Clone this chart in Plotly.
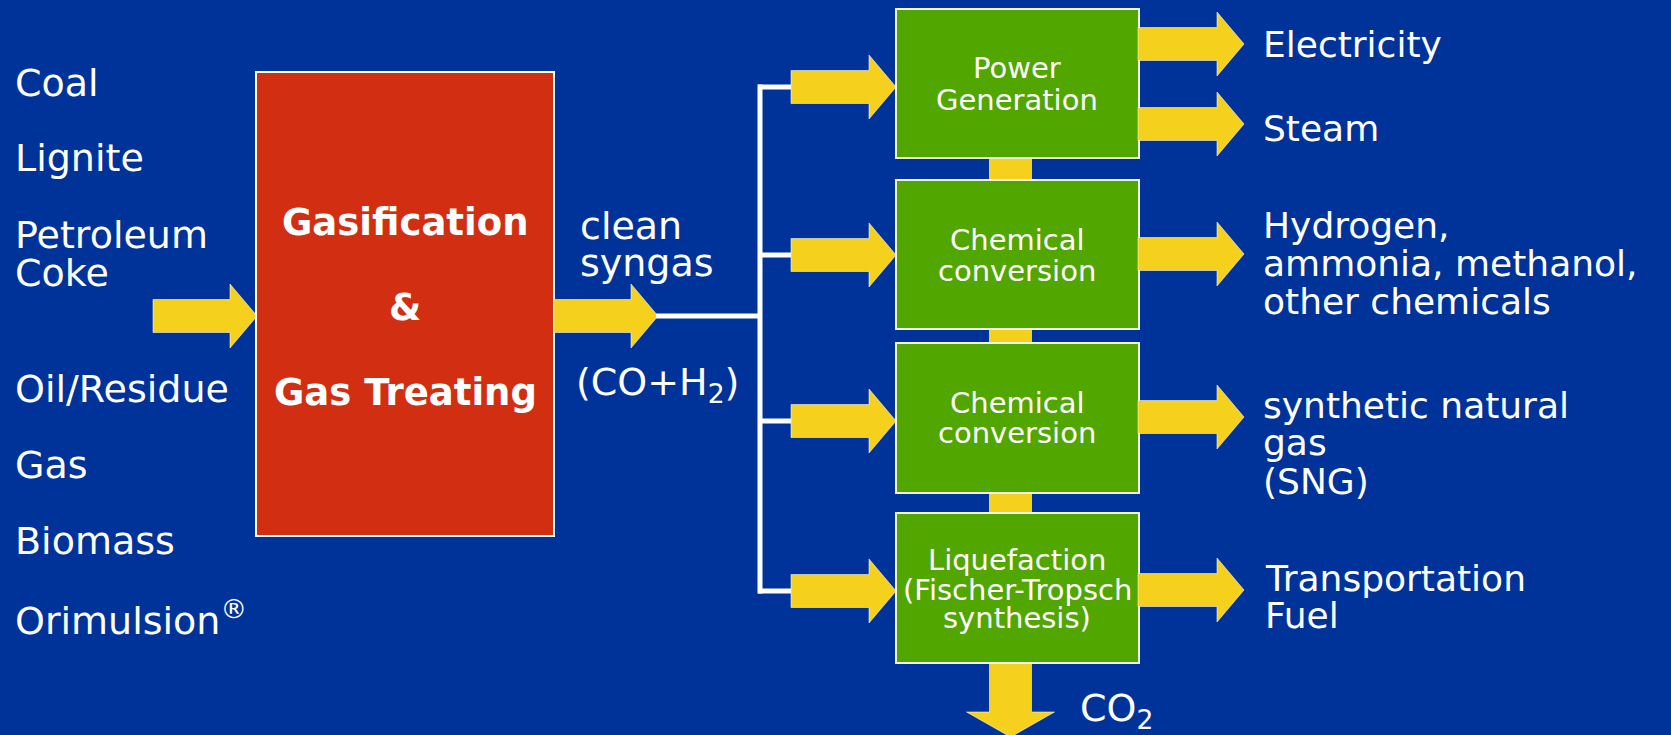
import plotly.graph_objects as go

# ---- content -------------------------------------------------------------
feedstocks = ["Coal", "Lignite", "Petroleum", "Coke", "Oil/Residue", "Gas",
              "Biomass", "Orimulsion<sup>®</sup>"]
feed_y = [83, 158, 235, 273, 389, 465, 541, 618]

core_lines = ["Gasification", "&", "Gas Treating"]
core_y = [222, 307, 392]

syngas_lines = ["clean", "syngas", "(CO+H<sub>2</sub>)"]
syngas_y = [226, 263, 384]

process_lines = [["Power", "Generation"],
                 ["Chemical", "conversion"],
                 ["Chemical", "conversion"],
                 ["Liquefaction", "(Fischer-Tropsch", "synthesis)"]]
process_text_y = [[68, 100], [240, 271], [403, 433], [560, 590, 618]]
process_box_y = [(9, 158), (180, 329), (343, 493), (513, 663)]

product_lines = [["Electricity"], ["Steam"],
                 ["Hydrogen,", "ammonia, methanol,", "other chemicals"],
                 ["synthetic natural", "gas", "(SNG)"],
                 ["Transportation", "Fuel"]]
product_text_y = [[44], [128], [225, 263, 301], [405, 442, 481], [578, 615]]
product_arrow_y = [44, 124, 254, 417, 590]
product_x = [1261, 1261, 1261, 1261, 1263]

branch_y = [87, 255, 421, 591]

W, H = 1671, 735
BLUE = "#003399"
RED = "#D22E12"
GREEN = "#52A600"
YELLOW = "#F5D01C"
WHITE = "#FFFFFF"
FONT = "DejaVu Sans"

shapes = []
annotations = []


def arrow_right(x0, x1, yc, body=16.5, head=32, head_len=27):
    xh = x1 - head_len
    path = (f"M {x0},{yc-body} L {xh},{yc-body} L {xh},{yc-head} L {x1},{yc} "
            f"L {xh},{yc+head} L {xh},{yc+body} L {x0},{yc+body} Z")
    return dict(type="path", path=path, xref="x", yref="y",
                fillcolor=YELLOW, line=dict(color="rgba(255,255,255,0.55)", width=1),
                layer="above")


def arrow_down(xc, y0, y1, body=21, head=44, head_len=25):
    yh = y1 - head_len
    path = (f"M {xc-body},{y0} L {xc-body},{yh} L {xc-head},{yh} L {xc},{y1} "
            f"L {xc+head},{yh} L {xc+body},{yh} L {xc+body},{y0} Z")
    return dict(type="path", path=path, xref="x", yref="y",
                fillcolor=YELLOW, line=dict(color="rgba(255,255,255,0.55)", width=1),
                layer="above")


def rect(x0, y0, x1, y1, fill, lw=2, lc=WHITE):
    return dict(type="rect", x0=x0, x1=x1, y0=y0, y1=y1, xref="x", yref="y",
                fillcolor=fill, line=dict(color=lc, width=lw), layer="above")


def text(x, y, s, size=36, anchor="left", bold=False):
    annotations.append(dict(
        x=x, y=y, xref="x", yref="y", text=(f"<b>{s}</b>" if bold else s),
        showarrow=False, xanchor=anchor, yanchor="middle",
        font=dict(family=FONT, size=size, color=WHITE)))


# connectors between process boxes (behind boxes)
for (a0, a1), (b0, b1) in zip(process_box_y[:-1], process_box_y[1:]):
    shapes.append(rect(989, a1 - 2, 1032, b0 + 2, YELLOW, lw=0))

# CO2 arrow out of the last box
shapes.append(arrow_down(1010.5, process_box_y[-1][1], 737))

# input arrow and main box
shapes.append(arrow_right(153, 257, 316))
shapes.append(rect(256, 72, 554, 536, RED, lw=2))

# syngas arrow and white distribution lines
shapes.append(arrow_right(554, 658, 316))
shapes.append(dict(type="line", x0=656, x1=760, y0=316, y1=316, xref="x", yref="y",
                   line=dict(color=WHITE, width=5), layer="above"))
shapes.append(dict(type="line", x0=760, x1=760, y0=branch_y[0] - 2.5,
                   y1=branch_y[-1] + 2.5, xref="x", yref="y",
                   line=dict(color=WHITE, width=5), layer="above"))
for by in branch_y:
    shapes.append(dict(type="line", x0=758, x1=795, y0=by, y1=by, xref="x", yref="y",
                       line=dict(color=WHITE, width=5), layer="above"))
    shapes.append(arrow_right(791, 896, by))

# process boxes
for (y0, y1) in process_box_y:
    shapes.append(rect(896, y0, 1139, y1, GREEN, lw=2, lc="#F0F5E6"))

# product arrows
for ay in product_arrow_y:
    shapes.append(arrow_right(1138, 1244, ay))

# ---- text ---------------------------------------------------------------
for s, y in zip(feedstocks, feed_y):
    text(13, y, s, size=38)

for s, y in zip(core_lines, core_y):
    text(405, y, s, size=37, anchor="center", bold=True)

for s, y in zip(syngas_lines, syngas_y):
    text(574 if s.startswith("(") else 578, y, s, size=38)

for lines, ys in zip(process_lines, process_text_y):
    for s, y in zip(lines, ys):
        text(1017, y, s, size=29, anchor="center")

for lines, ys, x in zip(product_lines, product_text_y, product_x):
    for s, y in zip(lines, ys):
        text(x, y, s, size=36)

text(1078, 710, "CO<sub>2</sub>", size=38)

fig = go.Figure()
fig.update_layout(
    width=W, height=H,
    margin=dict(l=0, r=0, t=0, b=0),
    paper_bgcolor=BLUE, plot_bgcolor=BLUE,
    xaxis=dict(range=[0, W], visible=False, fixedrange=True),
    yaxis=dict(range=[H, 0], visible=False, fixedrange=True),
    shapes=shapes, annotations=annotations, showlegend=False,
)
fig.write_html(
    "out.html",
    config={"displayModeBar": False},
    post_script=("document.body.style.margin='0';"
                 "document.body.style.overflow='hidden';"
                 "document.body.style.background='" + BLUE + "';"),
)
